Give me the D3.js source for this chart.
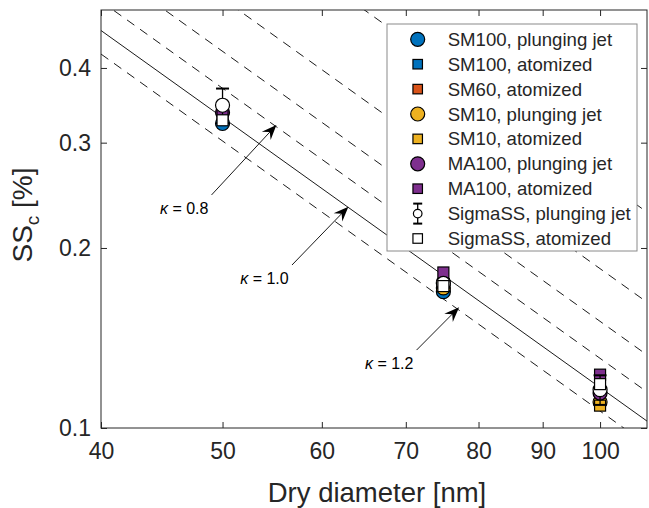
<!DOCTYPE html>
<html><head><meta charset="utf-8">
<script src="https://cdn.jsdelivr.net/npm/d3@7"></script>
<style>
body{margin:0;background:#fff}
svg{display:block}
text{font-family:"Liberation Sans",Arial,Helvetica,sans-serif;fill:#262626}
</style>
</head><body>
<svg id="chart" width="649" height="508"></svg>
<script>
// ---------------- data ----------------
const diameters = [50, 75, 100];               // nm
const xTickValues = [40, 50, 60, 70, 80, 90, 100];
const yTickValues = [0.1, 0.2, 0.3, 0.4];
const yTickLabels = ["0.1", "0.2", "0.3", "0.4"];

const seriesNames = [
  "SM100, plunging jet", "SM100, atomized", "SM60, atomized",
  "SM10, plunging jet", "SM10, atomized",
  "MA100, plunging jet", "MA100, atomized",
  "SigmaSS, plunging jet", "SigmaSS, atomized"
];
const sm100Plunging = [0.323, 0.169, null];
const sm100Atomized = [null, null, null];
const sm60Atomized  = [null, null, null];
const sm10Plunging  = [null, 0.1715, 0.1105];
const sm10Atomized  = [null, null, 0.1090];
const ma100Plunging = [0.337, 0.175, 0.1144];
const ma100Atomized = [0.336, 0.182, 0.1228];
const sigmaPlunging = [0.3465, 0.1745, 0.1159];
const sigmaPlungingErr = [0.023, 0.003, 0.0066];
const sigmaAtomized = [0.327, 0.1727, 0.1184];

// kappa (Koehler) lines: SSc read at both ends of the diameter range
const kappaValues   = [0.2, 0.4, 0.6, 0.8, 1.0, 1.2];
const kappaLineEnds = [40, 109];
const kappaSSAtStart = [1.033, 0.730, 0.596, 0.517, 0.462, 0.422];
const kappaSSAtEnd   = [0.2296, 0.1623, 0.1325, 0.1149, 0.1027, 0.0938];

// annotations (data coordinates)
const annoLabels = ["\u03ba = 0.8", "\u03ba = 1.0", "\u03ba = 1.2"];
const annoTextD  = [46.6, 54.0, 67.9];
const annoTextSS = [0.2330, 0.1780, 0.1283];
const annoTailD  = [49.0, 56.8, 71.4];
const annoTailSS = [0.2453, 0.1873, 0.1350];
const annoTipD   = [55.2, 63.0, 77.2];
const annoTipSS  = [0.3212, 0.2345, 0.1592];

// ---------------- styles ----------------
const seriesValues = [sm100Plunging, sm100Atomized, sm60Atomized, sm10Plunging, sm10Atomized,
                      ma100Plunging, ma100Atomized, sigmaPlunging, sigmaAtomized];
const seriesColors = ["#0072BD", "#0072BD", "#D95319", "#EDB120", "#EDB120",
                      "#7E2F8E", "#7E2F8E", "#FFFFFF", "#FFFFFF"];
const seriesShapes = ["circle", "square", "square", "circle", "square",
                      "circle", "square", "errcircle", "square"];

const W = 649, H = 508;
const plot = {left: 101, right: 647, top: 10, bottom: 428};
const ink = "#262626";

const svg = d3.select("#chart");
const x = d3.scaleLog().domain([40, 109]).range([plot.left, plot.right]);
const y = d3.scaleLog().domain([0.1, 0.5]).range([plot.bottom, plot.top]);

svg.append("defs").append("clipPath").attr("id", "clip")
  .append("rect").attr("x", plot.left).attr("y", plot.top)
  .attr("width", plot.right - plot.left).attr("height", plot.bottom - plot.top);

// kappa lines
const lineGen = d3.line().x(d => x(d[0])).y(d => y(d[1]));
const gl = svg.append("g").attr("clip-path", "url(#clip)");
kappaValues.forEach((k, i) => {
  gl.append("path")
    .attr("d", lineGen([[kappaLineEnds[0], kappaSSAtStart[i]], [kappaLineEnds[1], kappaSSAtEnd[i]]]))
    .attr("fill", "none").attr("stroke", "#000").attr("stroke-width", 0.9)
    .attr("stroke-dasharray", k === 1.0 ? null : "9,7");
});

// annotations
const ga = svg.append("g");
annoLabels.forEach((lab, i) => {
  const tx = x(annoTailD[i]), ty = y(annoTailSS[i]);
  const px = x(annoTipD[i]), py = y(annoTipSS[i]);
  const dx = px - tx, dy = py - ty, len = Math.hypot(dx, dy);
  const ux = dx / len, uy = dy / len, nx = -uy, ny = ux;
  const L = 15, Wd = 12;
  ga.append("line").attr("x1", tx).attr("y1", ty)
    .attr("x2", px - ux * L * 0.6).attr("y2", py - uy * L * 0.6)
    .attr("stroke", "#000").attr("stroke-width", 0.9);
  const pts = [
    [px, py],
    [px - ux * L + nx * Wd / 2, py - uy * L + ny * Wd / 2],
    [px - ux * L * 0.65, py - uy * L * 0.65],
    [px - ux * L - nx * Wd / 2, py - uy * L - ny * Wd / 2]
  ];
  ga.append("polygon").attr("points", pts.map(p => p.join(",")).join(" ")).attr("fill", "#000");
  const t = ga.append("text").attr("x", x(annoTextD[i])).attr("y", y(annoTextSS[i]))
    .attr("text-anchor", "middle").attr("dy", "0.35em").style("font-size", "16px").style("fill", "#000");
  t.append("tspan").style("font-style", "italic").text(lab.slice(0, 1));
  t.append("tspan").text(lab.slice(1));
});

// data markers
const gd = svg.append("g");
function drawMarker(g, cx, cy, shape, color, r, s) {
  if (shape === "square") {
    g.append("rect").attr("x", cx - s / 2).attr("y", cy - s / 2).attr("width", s).attr("height", s)
      .attr("fill", color).attr("stroke", "#000").attr("stroke-width", 1.2);
  } else {
    g.append("circle").attr("cx", cx).attr("cy", cy).attr("r", r)
      .attr("fill", color).attr("stroke", "#000").attr("stroke-width", 1.2);
  }
}
seriesValues.forEach((vals, si) => {
  vals.forEach((v, j) => {
    if (v == null) return;
    const cx = x(diameters[j]), cy = y(v);
    if (seriesShapes[si] === "errcircle") {
      const e = sigmaPlungingErr[j];
      const y1 = y(v - e), y2 = y(v + e);
      gd.append("line").attr("x1", cx).attr("x2", cx).attr("y1", y1).attr("y2", y2)
        .attr("stroke", "#000").attr("stroke-width", 1.3);
      [y1, y2].forEach(yy => gd.append("line").attr("x1", cx - 6.5).attr("x2", cx + 6.5)
        .attr("y1", yy).attr("y2", yy).attr("stroke", "#000").attr("stroke-width", 2));
    }
    drawMarker(gd, cx, cy, seriesShapes[si], seriesColors[si], 7, 11);
  });
});

// axes frame and ticks
const gx = svg.append("g").attr("transform", `translate(0,${plot.bottom})`)
  .call(d3.axisBottom(x).tickValues(xTickValues).tickFormat(d3.format("d")).tickSizeInner(-6).tickSizeOuter(0).tickPadding(15));
const gxt = svg.append("g").attr("transform", `translate(0,${plot.top})`)
  .call(d3.axisTop(x).tickValues(xTickValues).tickFormat("").tickSizeInner(-6).tickSizeOuter(0));
const gy = svg.append("g").attr("transform", `translate(${plot.left},0)`)
  .call(d3.axisLeft(y).tickValues(yTickValues).tickFormat((d, i) => yTickLabels[i]).tickSizeInner(-6).tickSizeOuter(0).tickPadding(10));
const gyr = svg.append("g").attr("transform", `translate(${plot.right},0)`)
  .call(d3.axisRight(y).tickValues(yTickValues).tickFormat("").tickSizeInner(-6).tickSizeOuter(0));
[gx, gxt, gy, gyr].forEach(g => {
  g.select(".domain").remove();
  g.selectAll(".tick line").attr("stroke", ink).attr("stroke-width", 1);
  g.selectAll(".tick text").style("font-size", "23px").style("fill", ink)
    .style("font-family", '"Liberation Sans",Arial,Helvetica,sans-serif');
});
svg.append("rect").attr("x", plot.left).attr("y", plot.top)
  .attr("width", plot.right - plot.left).attr("height", plot.bottom - plot.top)
  .attr("fill", "none").attr("stroke", ink).attr("stroke-width", 1);

// axis titles
svg.append("text").attr("x", 377).attr("y", 502)
  .attr("text-anchor", "middle").style("font-size", "27.5px").text("Dry diameter [nm]");
const yt = svg.append("text").attr("transform", `translate(32,${(plot.top + plot.bottom) / 2 - 4}) rotate(-90)`)
  .attr("text-anchor", "middle").style("font-size", "28px");
yt.append("tspan").text("SS");
yt.append("tspan").attr("dy", 7).style("font-size", "19px").text("c");
yt.append("tspan").attr("dy", -7).text(" [%]");

// legend
const lg = svg.append("g");
const lx = 387, ly = 24, lw = 250, lh = 227, rowH = 24.9, firstRow = 15.3;
lg.append("rect").attr("x", lx).attr("y", ly).attr("width", lw).attr("height", lh)
  .attr("fill", "#fff").attr("stroke", "#8a8a8a").attr("stroke-width", 1);
seriesNames.forEach((name, i) => {
  const cy = ly + firstRow + i * rowH, cx = lx + 30.7;
  const shape = seriesShapes[i];
  if (shape === "errcircle") {
    lg.append("line").attr("x1", cx).attr("x2", cx).attr("y1", cy - 10).attr("y2", cy + 10)
      .attr("stroke", "#000").attr("stroke-width", 1.3);
    [cy - 10, cy + 10].forEach(yy => lg.append("line").attr("x1", cx - 4.5).attr("x2", cx + 4.5)
      .attr("y1", yy).attr("y2", yy).attr("stroke", "#000").attr("stroke-width", 2));
    lg.append("circle").attr("cx", cx).attr("cy", cy).attr("r", 4.3)
      .attr("fill", "#fff").attr("stroke", "#000").attr("stroke-width", 1.2);
  } else {
    drawMarker(lg, cx, cy, shape, seriesColors[i], 7, 9.5);
  }
  lg.append("text").attr("x", lx + 60.7).attr("y", cy).attr("dy", "0.35em")
    .style("font-size", "18.6px").text(name);
});
</script>
</body></html>
